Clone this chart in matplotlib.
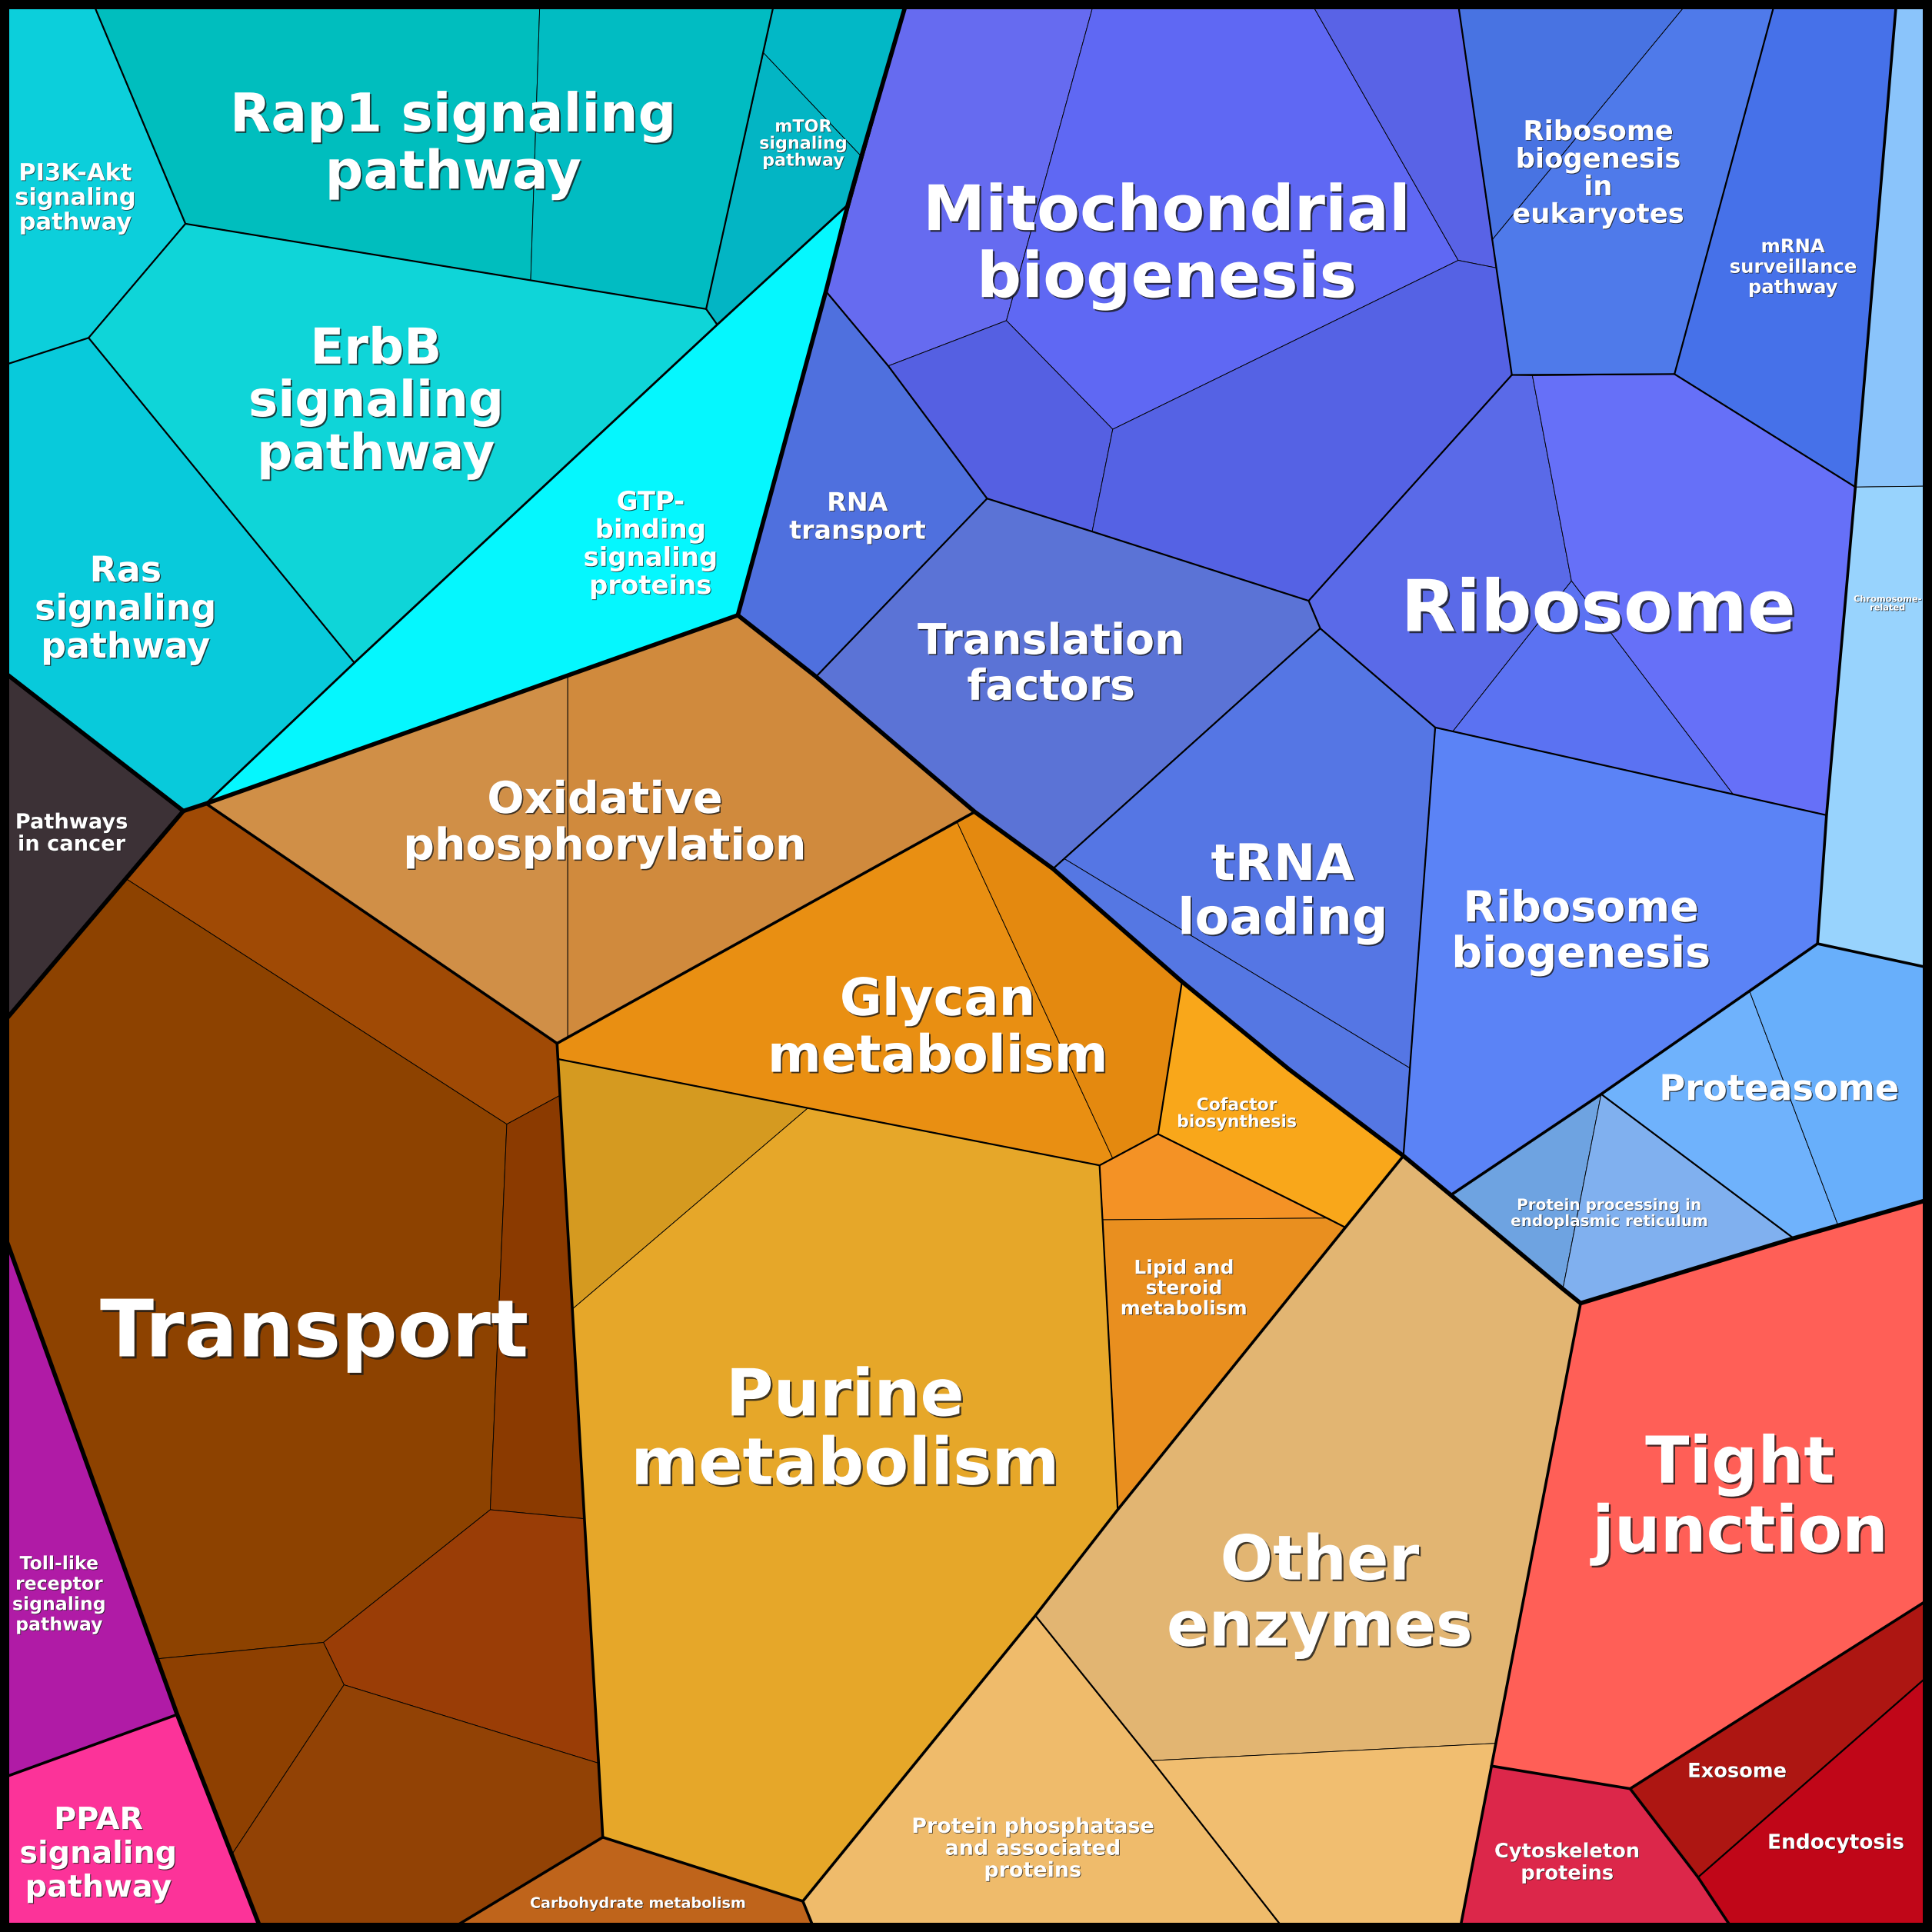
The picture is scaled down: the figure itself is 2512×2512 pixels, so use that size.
import matplotlib
matplotlib.use("Agg")
import matplotlib.pyplot as plt
from matplotlib.patches import Polygon, Rectangle
import matplotlib.patheffects as pe

# ---- junction points of the Voronoi treemap (square of 1568 units, y downward)
points = {
    'C00': (0, 0), 'C10': (1568, 0), 'C01': (0, 1568), 'C11': (1568, 1568),
    'T1': (74.5, 0), 'T2': (438.2, 0), 'T3': (628.8, 0), 'T4': (736.2, 0), 'T5': (888.4, 0),
    'T6': (1062.9, 0), 'T7': (1183.0, 0), 'T8': (1371.5, 0), 'T9': (1441.0, 0), 'T10': (1539.2, 0),
    'A1': (150.5, 181.6), 'A2': (71.9, 274.2), 'A3': (430.7, 227.5), 'A4': (573.1, 250.8),
    'A5': (582.1, 263.5), 'A6': (619.5, 42.8), 'A7': (699.1, 127.0), 'A8': (688.1, 166.2),
    'A9': (287.6, 537.9), 'A10': (167.2, 652.2), 'A11': (148.8, 658.2),
    'L1': (0, 297.4), 'L2': (0, 542.9), 'L3': (0, 833.1), 'L4': (0, 992.0), 'L5': (0, 1443.7),
    'TP': (143.8, 1391.5), 'B1': (212.6, 1568),
    'P0': (598.8, 499.3), 'M1': (670.3, 236.4), 'M2': (720.9, 297.0), 'M3': (801.1, 404.6),
    'M4': (816.8, 260.2), 'M5': (903.1, 348.4), 'M6': (886.4, 431.4), 'M7': (1183.5, 211.3),
    'M8': (1214.4, 217.4), 'M9': (1227.0, 304.3), 'M10': (1062.1, 487.6), 'M11': (1071.5, 510.0),
    'E1': (1211.1, 194.6), 'Rb': (1359.0, 303.6), 'K1': (1505.8, 395.3), 'K2': (1482.4, 661.6),
    'K3': (1475.1, 765.9), 'R1': (1568, 394.5), 'R2': (1568, 786.0), 'R3': (1568, 972.8),
    'R4': (1568, 1296.3), 'R5': (1568, 1357.3),
    'J0': (1243.7, 304.9), 'J1': (1275.4, 471.5), 'J2': (1179.1, 593.6), 'J3': (1406.5, 644.6),
    'N1': (1164.8, 590.4), 'N3': (1144.3, 866.9), 'N4': (863.7, 696.9),
    'Q1': (662.3, 549.2), 'Q2': (791.1, 658.9), 'Q3': (854.6, 705.1), 'Q4': (959.3, 796.7),
    'Q5': (1046.2, 867.9), 'Va': (1139.0, 938.1), 'W1': (1177.5, 969.9), 'W2': (1268.4, 1046.1),
    'W3': (1282.8, 1057.7), 'W4': (1299.5, 888.0), 'W5': (1419.9, 804.3), 'W6': (1491.8, 994.6),
    'W7': (1455.7, 1005.0),
    'O1': (452.1, 846.8), 'G0': (452.8, 859.5), 'U1': (655.7, 899.3), 'U2': (464.5, 1062.5),
    'O3': (489.2, 1491.1), 'Y1': (454.5, 889.0), 'Y2': (411.3, 912.4), 'Y3': (102.0, 713.0),
    'Y5': (397.9, 1225.3), 'Y6': (262.5, 1333.0), 'Y7': (127.5, 1346.3), 'Y8': (474.3, 1232.6),
    'Y9': (485.8, 1431.0), 'Y10': (279.2, 1367.4), 'Y11': (188.1, 1505.2), 'B2': (362.0, 1568),
    'X1': (460.8, 548.2), 'X2': (460.8, 843.5), 'G1': (892.4, 945.8), 'G2': (776.7, 667.0),
    'G3': (903.1, 940.1), 'G4': (939.9, 920.4), 'H1': (1091.9, 996.2), 'H3': (894.8, 990.0),
    'H4': (1077.0, 988.6), 'LP': (907.1, 1225.3), 'PP0': (840.3, 1311.2), 'Z1': (651.6, 1543.0),
    'B3': (661.7, 1568), 'OEl': (934.9, 1428.9), 'OEr': (1214.0, 1414.9), 'B4': (1043.8, 1568),
    'B5': (1184.5, 1568), 'RD0': (1210.5, 1433.3), 'RD1': (1323.0, 1451.7), 'RD2': (1378.1, 1523.6),
    'B6': (1407.6, 1568),
}

# ---- cells (protein level): outline as junction names, and fill colour
cell_outlines = [
    ['C00', 'T1', 'A1', 'A2', 'L1'],                     # PI3K-Akt
    ['T1', 'T2', 'A3', 'A1'],                            # Rap1 a
    ['T2', 'T3', 'A6', 'A4', 'A3'],                      # Rap1 b
    ['T3', 'T4', 'A7', 'A6'],                            # mTOR a
    ['A6', 'A7', 'A8', 'A5', 'A4'],                      # mTOR b
    ['A1', 'A3', 'A4', 'A5', 'A9', 'A2'],                # ErbB
    ['L1', 'A2', 'A9', 'A10', 'A11', 'L2'],              # Ras
    ['A5', 'A8', 'M1', 'P0', 'A10', 'A9'],               # GTP-binding
    ['L2', 'A11', 'L3'],                                 # Pathways in cancer
    ['T4', 'T5', 'M4', 'M2', 'M1'],                      # Mito 1
    ['T5', 'T6', 'M7', 'M5', 'M4'],                      # Mito 2
    ['T6', 'T7', 'M8', 'M7'],                            # Mito 3
    ['M2', 'M4', 'M5', 'M6', 'M3'],                      # Mito 4
    ['M5', 'M7', 'M8', 'M9', 'M10', 'M6'],               # Mito 5
    ['M1', 'M2', 'M3', 'Q1', 'P0'],                      # RNA transport
    ['M3', 'M6', 'M10', 'M11', 'N4', 'Q3', 'Q2', 'Q1'],  # Translation factors
    ['M11', 'N1', 'N3', 'N4'],                           # tRNA 1
    ['N4', 'N3', 'Va', 'Q5', 'Q4', 'Q3'],                # tRNA 2
    ['T7', 'T8', 'E1'],                                  # RBE 1
    ['E1', 'T8', 'T9', 'Rb', 'M9'],                      # RBE 2
    ['T9', 'T10', 'K1', 'Rb'],                           # mRNA surveillance
    ['M9', 'J0', 'J1', 'J2', 'N1', 'M11', 'M10'],        # Ribosome 1
    ['J0', 'Rb', 'K1', 'K2', 'J3', 'J1'],                # Ribosome 2
    ['J1', 'J3', 'J2'],                                  # Ribosome 3
    ['T10', 'C10', 'R1', 'K1'],                          # Chromosome 1
    ['K1', 'R1', 'R2', 'K3', 'K2'],                      # Chromosome 2
    ['N1', 'J2', 'J3', 'K2', 'K3', 'W5', 'W4', 'W1', 'Va', 'N3'],  # Ribosome biogenesis
    ['W4', 'W5', 'W6', 'W7'],                            # Proteasome 1
    ['W5', 'K3', 'R2', 'R3', 'W6'],                      # Proteasome 2
    ['W1', 'W4', 'W2'],                                  # Protein processing 1
    ['W4', 'W7', 'W3', 'W2'],                            # Protein processing 2
    ['A10', 'X1', 'X2', 'O1'],                           # Oxidative 1
    ['X1', 'P0', 'Q1', 'Q2', 'X2'],                      # Oxidative 2
    ['O1', 'G2', 'G3', 'G1', 'G0'],                      # Glycan 1
    ['G2', 'Q2', 'Q3', 'Q4', 'G4', 'G3'],                # Glycan 2
    ['Q4', 'Q5', 'Va', 'H1', 'G4'],                      # Cofactor
    ['G1', 'G4', 'H4', 'H3'],                            # Lipid 1
    ['H3', 'H4', 'H1', 'LP'],                            # Lipid 2
    ['G0', 'U1', 'U2'],                                  # Purine 1
    ['U1', 'G1', 'H3', 'LP', 'PP0', 'Z1', 'O3', 'U2'],   # Purine 2
    ['A11', 'A10', 'O1', 'Y1', 'Y2', 'Y3'],              # Transport top
    ['L3', 'Y3', 'Y2', 'Y5', 'Y6', 'Y7', 'L4'],          # Transport main
    ['Y2', 'Y1', 'Y8', 'Y5'],                            # Transport right
    ['Y5', 'Y8', 'Y9', 'Y10', 'Y6'],                     # Transport mid
    ['Y7', 'Y6', 'Y10', 'Y11', 'TP'],                    # Transport low-left
    ['Y10', 'Y9', 'O3', 'B2', 'B1', 'Y11'],              # Transport bottom
    ['L4', 'TP', 'L5'],                                  # Toll-like
    ['L5', 'TP', 'B1', 'C01'],                           # PPAR
    ['O3', 'Z1', 'B3', 'B2'],                            # Carbohydrate
    ['PP0', 'OEl', 'B4', 'B3', 'Z1'],                    # Protein phosphatase
    ['Va', 'W1', 'W2', 'W3', 'OEr', 'OEl', 'PP0', 'LP', 'H1'],  # Other enzymes 1
    ['OEl', 'OEr', 'B5', 'B4'],                          # Other enzymes 2
    ['W3', 'W7', 'R3', 'R4', 'RD1', 'RD0'],              # Tight junction
    ['RD0', 'RD1', 'RD2', 'B6', 'B5'],                   # Cytoskeleton
    ['RD1', 'R4', 'R5', 'RD2'],                          # Exosome
    ['RD2', 'R5', 'C11', 'B6'],                          # Endocytosis
]
cell_colors = [
    '#0ccfdb', '#00bebe', '#01bcc2', '#02b8c6', '#03b5c4', '#0fd5d8', '#08cadb', '#05f7fe', '#3c3136',
    '#666bf0', '#5f68f3', '#5963e6', '#5560e2', '#5562e4', '#4f70de', '#5b73d6', '#5576e4', '#5577e3',
    '#4873e2', '#4f7aea', '#4671e9', '#5a6ae8', '#6670f8', '#5b72f2', '#8ac4fb', '#98d3fd', '#5b83f6',
    '#6fb2fc', '#68affb', '#6ea3e1', '#80b0ef',
    '#d08f47', '#d08a3d', '#e98f12', '#e4890f', '#f9a71a', '#f49225', '#e98f1f', '#d59a20', '#e6a729',
    '#a04a05', '#8d4200', '#8b3a00', '#9a3d06', '#8e4001', '#924205',
    '#b01ba6', '#fc3399', '#bf641b', '#efbb6b', '#e2b572', '#f1be70',
    '#ff5f57', '#dc274a', '#ad1612', '#c00618',
]

# ---- boundaries between groups (heavier lines), as junction chains
heavy_lines = [
    ['T4', 'A7', 'A8', 'M1', 'P0', 'Q1', 'Q2', 'Q3', 'Q4', 'Q5', 'Va', 'W1', 'W2', 'W3', 'W7', 'R3'],
    ['P0', 'A10', 'A11', 'L2'], ['A11', 'L3'], ['L4', 'Y7', 'TP', 'Y11', 'B1'],
]
group_lines = [
    ['A10', 'O1', 'Q2'], ['O1', 'G0', 'Y1', 'U2', 'Y8', 'Y9', 'O3', 'B2'], ['O3', 'Z1', 'B3'],
    ['L5', 'TP'], ['Va', 'H1', 'LP', 'PP0', 'Z1'], ['W3', 'OEr', 'RD0', 'B5'],
    ['T10', 'K1', 'K2', 'K3', 'R2'], ['K3', 'W5', 'W4', 'W1'], ['RD0', 'RD1', 'R4'], ['RD1', 'RD2', 'B6'],
]
sub_lines = [['A9', 'A5', 'A8'], ['A9', 'A10']]
pathway_lines = [
    ['T1', 'A1', 'A2', 'L1'], ['A1', 'A3', 'A4', 'A5'], ['A2', 'A9'], ['T3', 'A4'],
    ['M1', 'M2', 'M3', 'Q1'], ['M3', 'M6', 'M10', 'M11', 'N4', 'Q3'], ['T7', 'M9'], ['M9', 'Rb'],
    ['T9', 'Rb', 'K1'], ['M9', 'M10'], ['M11', 'N1', 'J2', 'J3', 'K2'], ['N1', 'N3', 'Va'], ['W4', 'W7'],
    ['G0', 'U1', 'G1', 'G3', 'G4', 'Q4'], ['G4', 'H4', 'H1'], ['G1', 'H3', 'LP'], ['PP0', 'OEl', 'B4'],
    ['RD2', 'R5'],
]

# ---- labels
label_texts = [
    'Rap1 signaling\npathway', 'PI3K-Akt\nsignaling\npathway', 'ErbB\nsignaling\npathway',
    'Ras\nsignaling\npathway', 'GTP-\nbinding\nsignaling\nproteins', 'mTOR\nsignaling\npathway',
    'Mitochondrial\nbiogenesis', 'RNA\ntransport', 'Translation\nfactors', 'Ribosome',
    'Ribosome\nbiogenesis\nin\neukaryotes', 'mRNA\nsurveillance\npathway', 'Chromosome-\nrelated',
    'tRNA\nloading', 'Ribosome\nbiogenesis', 'Proteasome', 'Protein processing in\nendoplasmic reticulum',
    'Oxidative\nphosphorylation', 'Pathways\nin cancer', 'Glycan\nmetabolism', 'Cofactor\nbiosynthesis',
    'Lipid and\nsteroid\nmetabolism', 'Transport', 'Purine\nmetabolism', 'Other\nenzymes',
    'Tight\njunction', 'Toll-like\nreceptor\nsignaling\npathway', 'PPAR\nsignaling\npathway',
    'Carbohydrate metabolism', 'Protein phosphatase\nand associated\nproteins', 'Cytoskeleton\nproteins',
    'Exosome', 'Endocytosis',
]
label_x = [368, 61, 305, 102, 528, 652, 947, 696, 853, 1297, 1297, 1455, 1532, 1041, 1283, 1444, 1306,
           491, 58, 761, 1004, 961, 255, 686, 1071, 1412, 48, 80, 518, 838, 1272, 1410, 1490]
label_y = [118, 161, 327, 495, 442, 117, 200, 420, 540, 496, 141, 217, 490, 725, 757, 885, 985,
           669, 677, 835, 904, 1046, 1083, 1162, 1295, 1217, 1294, 1505, 1545, 1501, 1512, 1438, 1496]
label_sizes = [50, 22, 46.4, 33, 24.4, 16, 58.7, 24, 39.8, 67, 25.5, 17.5, 8.2, 47, 40, 33.3, 14.4,
               41, 19.6, 48.3, 15.8, 18, 74, 60.8, 58, 60.5, 17, 28.6, 13.8, 19.4, 18.5, 18.5, 19]

PX = 0.72  # points per output pixel at dpi 100
W_THIN, W_PATH, W_SUB, W_GROUP, W_HEAVY = 0.9 * PX, 2.2 * PX, 2.8 * PX, 3.6 * PX, 5.6 * PX

fig = plt.figure(figsize=(25.12, 25.12), dpi=100)
ax = fig.add_axes([0, 0, 1, 1])
ax.set_xlim(0, 1568)
ax.set_ylim(1568, 0)
ax.axis('off')

for outline, col in zip(cell_outlines, cell_colors):
    ax.add_patch(Polygon([points[k] for k in outline], closed=True, facecolor=col,
                         edgecolor='black', linewidth=W_THIN, joinstyle='round'))

def draw_chains(chains, lw):
    for ch in chains:
        xs = [points[k][0] for k in ch]
        ys = [points[k][1] for k in ch]
        ax.plot(xs, ys, color='black', lw=lw, solid_joinstyle='round', solid_capstyle='round')

draw_chains(pathway_lines, W_PATH)
draw_chains(sub_lines, W_SUB)
draw_chains(group_lines, W_GROUP)
draw_chains(heavy_lines, W_HEAVY)

ax.add_patch(Rectangle((0, 0), 1568, 1568, fill=False, edgecolor='black', lw=24 * PX, clip_on=False))

for txt, x, y, fs in zip(label_texts, label_x, label_y, label_sizes):
    off = max(0.6, fs * 0.028)
    ls = 1.07 if txt.startswith('Ribosome\nbiogenesis\nin') else 1.13
    ax.text(x, y, txt, ha='center', va='center', multialignment='center', color='white',
            fontsize=fs, fontweight='bold', family='DejaVu Sans', linespacing=ls,
            path_effects=[pe.withSimplePatchShadow(offset=(off, -off), shadow_rgbFace='#1a1a1a', alpha=0.8)])

fig.savefig('out.png', dpi=100)
